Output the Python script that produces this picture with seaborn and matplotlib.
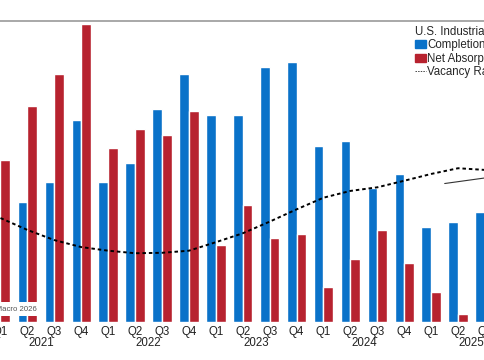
import seaborn as sns
import matplotlib.pyplot as plt
import matplotlib.patches as mpatches
import matplotlib.lines as mlines
import matplotlib.transforms as mtransforms
import numpy as np
import pandas as pd

# quarters shown on the x axis
quarters = ["Q1", "Q2", "Q3", "Q4"] * 4 + ["Q1", "Q2", "Q3"]
years = ["2021", "2022", "2023", "2024", "2025"]
period = [f"{q} {2021 + i // 4}" for i, q in enumerate(quarters)]

# millions of sq. ft.
completions = [50.0, 59.7, 70.0, 100.9, 70.0, 79.2, 106.4, 123.7, 103.2, 103.2,
               127.5, 130.0, 87.9, 90.4, 67.0, 73.9, 47.4, 49.7, 54.7]
net_absorption = [80.9, 108.0, 123.7, 148.9, 87.0, 96.2, 93.2, 105.5, 38.5, 58.4,
                  41.7, 43.7, 17.2, 31.4, 45.7, 29.2, 14.7, 3.9, 25.0]
# vacancy rate, %
vacancy = [4.89, 4.33, 3.85, 3.52, 3.35, 3.23, 3.25, 3.35, 3.75, 4.17,
           4.72, 5.30, 5.85, 6.17, 6.34, 6.65, 6.97, 7.24, 7.16]

blue = "#0A72C9"
red = "#B7222F"

df = pd.DataFrame({
    "period": period * 2,
    "value": completions + net_absorption,
    "series": ["Completions"] * len(period) + ["Net Absorption"] * len(period),
})

sns.set_style("white")
plt.rcParams["font.family"] = ["Liberation Sans", "DejaVu Sans"]

fig = plt.figure(figsize=(4.85, 3.6), dpi=100)
ax = fig.add_axes([0, 38.3 / 360, 1, 301 / 360])

sns.barplot(data=df, x="period", y="value", hue="series", order=period,
            palette=[blue, red], width=0.72, gap=0, saturation=1,
            legend=False, ax=ax)

# vacancy rate on its own (hidden) right axis
ax2 = ax.twinx()
sns.lineplot(x=np.arange(len(period)), y=vacancy, ax=ax2, color="black",
             linestyle=(0, (1.8, 1.5)), linewidth=1.4)
ax2.set_ylim(0, 14.2)
ax2.set_axis_off()

ax.set_ylim(0, 150.5)
ax.set_xlim(-0.018, 17.68)
ax.set_xlabel("")
ax.set_ylabel("")
ax.set_yticks([])
ax.set_xticks(range(len(period)))
ax.set_xticklabels(quarters, fontsize=8.3, color="#222222")
ax.tick_params(axis="x", length=0, pad=3)
for side in ["left", "right", "bottom"]:
    ax.spines[side].set_visible(False)
ax.spines["top"].set_color("#9a9a9a")
ax.spines["top"].set_linewidth(1.2)

# year labels under each group of quarters
trans = mtransforms.blended_transform_factory(ax.transData, ax.transAxes)
for i, yr in enumerate(years):
    ax.text(i * 4 + 1.5, -0.05, yr, transform=trans, ha="center", va="top",
            fontsize=8.3, color="#222222")

# leader line toward the (cropped) forecast label
ax.annotate("", xy=(16.4, 68.9), xytext=(18.6, 73.0),
            arrowprops=dict(arrowstyle="-", color="#333333", lw=0.8))

fig.text(37 / 485, 1 - 309 / 360, "Source: CBRE Econometric Advisors, Macro 2026",
         ha="right", va="center", fontsize=5.6, color="#555555",
         bbox=dict(fc="white", ec="none", pad=2.5))

handles = [
    mpatches.Patch(color=blue, label="Completions"),
    mpatches.Patch(color=red, label="Net Absorption"),
    mlines.Line2D([], [], color="#444444", linestyle=(0, (1.5, 1.2)), lw=0.7,
                  label="Vacancy Rate"),
]
leg = fig.legend(handles=handles, title="U.S. Industrial Market", loc="upper left",
                 bbox_to_anchor=(415 / 485, 1 - 26 / 360), frameon=False,
                 fontsize=8.3, title_fontsize=8.3, handlelength=0.95,
                 handleheight=0.7, handletextpad=0.1, labelspacing=0.12,
                 borderpad=0, borderaxespad=0)
leg._legend_box.align = "left"

fig.savefig("out.png", dpi=100)
